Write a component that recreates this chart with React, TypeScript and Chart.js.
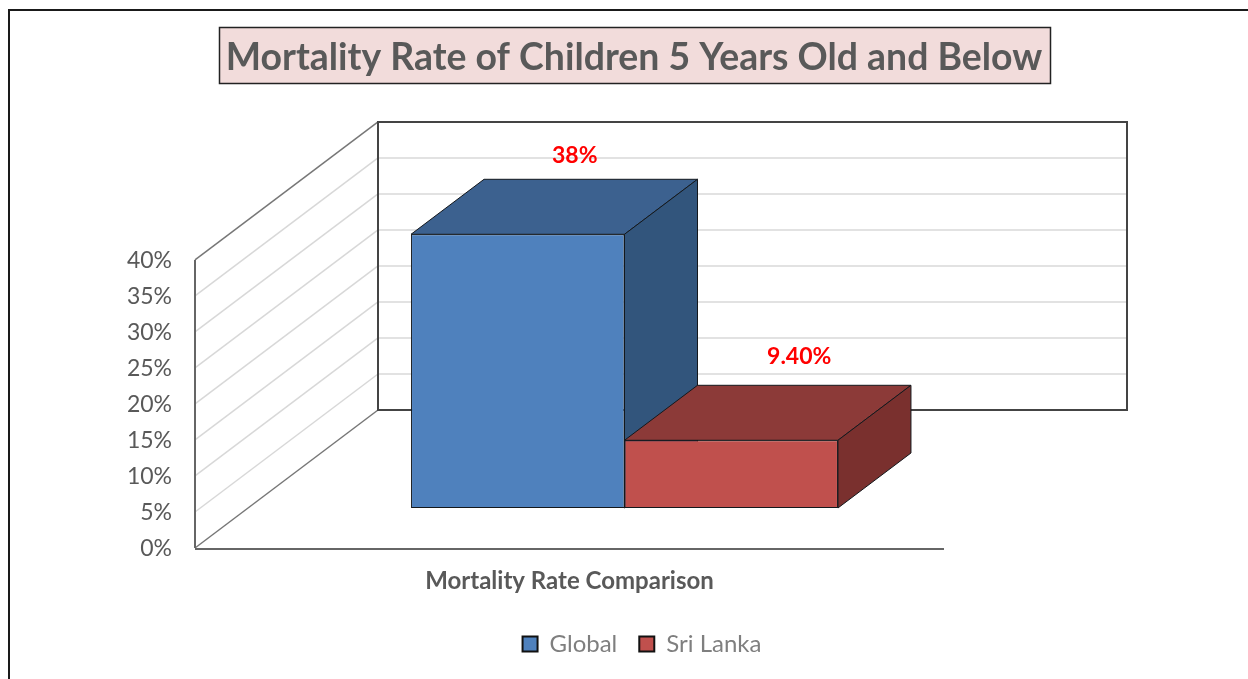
import { useEffect, useRef } from "react";
import { Chart, registerables } from "chart.js";

Chart.register(...registerables);

const titleText = "Mortality Rate of Children 5 Years Old and Below";
const categories = ["Mortality Rate Comparison"];
const seriesNames = ["Global", "Sri Lanka"];
const seriesValues = [[38], [9.4]];
const valueLabels = ["38%", "9.40%"];
const frontColors = ["#4f81bd", "#c0504d"];
const topColors = ["#3c618f", "#8c3a38"];
const sideColors = ["#32557c", "#7a302e"];
const labelNudges = [
  [57, -79],
  [68, -84],
];

const FONT = "Lato, Carlito, sans-serif";

// Oblique projection of the box: how far the rear wall sits from the axis plane,
// how far the bars stand in front of it, and how deep they are.
const wallShift = { x: 183, y: -138 };
const barShift = { x: 55, y: -40 };
const barDepth = { x: 73, y: -55 };

const line = (ctx: any, x1: number, y1: number, x2: number, y2: number, color: string, width: number) => {
  ctx.beginPath();
  ctx.moveTo(x1, y1);
  ctx.lineTo(x2, y2);
  ctx.strokeStyle = color;
  ctx.lineWidth = width;
  ctx.stroke();
};

const face = (ctx: any, points: number[][], fill: string) => {
  ctx.beginPath();
  points.forEach(([x, y], i) => (i ? ctx.lineTo(x, y) : ctx.moveTo(x, y)));
  ctx.closePath();
  ctx.fillStyle = fill;
  ctx.fill();
  ctx.strokeStyle = "#14181c";
  ctx.lineWidth = 1;
  ctx.stroke();
};

const box3d = {
  id: "box3d",
  afterLayout(chart: any) {
    // The plot is narrower than the canvas; title and legend centre on the canvas instead.
    chart.titleBlock.left += 152;
    chart.titleBlock.right += 152;
    chart.legend.left += 160;
    chart.legend.right += 160;
  },
  beforeDraw(chart: any) {
    const { ctx, width, height, scales } = chart;
    const { x: xs, y: ys } = scales;
    ctx.save();
    ctx.fillStyle = "#ffffff";
    ctx.fillRect(0, 0, width, height);
    ctx.strokeStyle = "#1a1a1a";
    ctx.lineWidth = 2;
    ctx.strokeRect(9, 10, width + 20, height + 20);

    // Title plate
    const plate = { l: 219.5, t: 27.5, r: 1050.5, b: 83.5 };
    ctx.fillStyle = "#f2dcdb";
    ctx.fillRect(plate.l, plate.t, plate.r - plate.l, plate.b - plate.t);
    ctx.strokeStyle = "#222222";
    ctx.lineWidth = 1.5;
    ctx.strokeRect(plate.l, plate.t, plate.r - plate.l, plate.b - plate.t);

    const left = xs.left;
    const right = xs.right;
    const top = ys.getPixelForValue(ys.max);
    const bottom = ys.getPixelForValue(ys.min);
    const bx = left + wallShift.x;
    const br = right + wallShift.x;

    // Gridlines run across the side wall and along the rear wall.
    ys.ticks.forEach((tick: any) => {
      if (tick.value === ys.min || tick.value === ys.max) return;
      const py = ys.getPixelForValue(tick.value);
      line(ctx, left, py, bx, py + wallShift.y, "#d8d8d8", 1.5);
      line(ctx, bx, py + wallShift.y, br, py + wallShift.y, "#e2e2e2", 2);
    });

    // Wall outlines
    line(ctx, left, top, bx, top + wallShift.y, "#777777", 1.5);
    line(ctx, left, bottom, bx, bottom + wallShift.y, "#777777", 1.5);
    line(ctx, left, top, left, bottom, "#666666", 2);
    ctx.beginPath();
    ctx.rect(bx, top + wallShift.y, br - bx, bottom - top);
    ctx.strokeStyle = "#444444";
    ctx.lineWidth = 2;
    ctx.stroke();
    line(ctx, left, bottom + 1, right, bottom + 1, "#666666", 2);
    ctx.restore();
  },
  beforeDatasetDraw() {
    // Bars are painted in series order in afterDatasetsDraw instead.
    return false;
  },
  afterDatasetsDraw(chart: any) {
    const { ctx } = chart;
    chart.data.datasets.forEach((_: any, i: number) => {
      const meta = chart.getDatasetMeta(i);
      ctx.save();
      ctx.translate(barShift.x, barShift.y);
      meta.data.forEach((bar: any) => {
        const { x, y, base, width } = bar.getProps(["x", "y", "base", "width"]);
        const l = x - width / 2;
        const r = x + width / 2;
        const d = barDepth;
        face(ctx, [[l, y], [r, y], [r + d.x, y + d.y], [l + d.x, y + d.y]], topColors[i]);
        face(ctx, [[r, y], [r + d.x, y + d.y], [r + d.x, base + d.y], [r, base]], sideColors[i]);
      });
      meta.controller.draw();
      ctx.restore();
    });
    chart.data.datasets.forEach((_: any, i: number) => {
      chart.getDatasetMeta(i).data.forEach((bar: any) => {
        const { x, y } = bar.getProps(["x", "y"]);
        ctx.save();
        ctx.font = `bold 23px ${FONT}`;
        ctx.fillStyle = "#ff0000";
        ctx.textAlign = "center";
        ctx.textBaseline = "middle";
        ctx.fillText(valueLabels[i], x + barShift.x + labelNudges[i][0], y + barShift.y + labelNudges[i][1]);
        ctx.restore();
      });
    });
  },
};

export default function App() {
  const ref = useRef<HTMLCanvasElement>(null);

  useEffect(() => {
    const chart = new Chart(ref.current!, {
      type: "bar",
      data: {
        labels: categories,
        datasets: seriesNames.map((label, i) => ({
          label,
          data: seriesValues[i],
          backgroundColor: frontColors[i],
          borderColor: "#14181c",
          borderWidth: 1,
          borderSkipped: false,
          barPercentage: 1,
          categoryPercentage: 0.57,
        })),
      },
      options: {
        animation: false,
        responsive: false,
        layout: { padding: { left: 20, right: 304, top: 0, bottom: 13 } },
        scales: {
          x: {
            grid: { display: false },
            border: { display: false },
            ticks: {
              padding: 11,
              color: "#595959",
              font: { family: FONT, size: 24, weight: "bold" },
            },
            afterFit(scale: any) {
              scale.height = 62;
            },
          },
          y: {
            min: 0,
            max: 40,
            grid: { display: false, drawTicks: false },
            border: { display: false },
            ticks: {
              stepSize: 5,
              padding: 23,
              labelOffset: 1,
              color: "#595959",
              font: { family: FONT, size: 23 },
              callback: (v: any) => `${v}%`,
            },
            afterFit(scale: any) {
              scale.width = 175;
            },
          },
        },
        plugins: {
          tooltip: { enabled: false },
          title: {
            display: true,
            text: titleText,
            color: "#595959",
            font: { family: FONT, size: 37.4, weight: "bold" },
            padding: { top: 35, bottom: 180 },
          },
          legend: {
            position: "bottom",
            labels: {
              boxWidth: 15,
              boxHeight: 15,
              padding: 22,
              color: "#7f7f7f",
              font: { family: FONT, size: 24 },
              generateLabels: (c: any) =>
                (Chart as any).defaults.plugins.legend.labels
                  .generateLabels(c)
                  .map((item: any) => ({ ...item, lineWidth: 2, strokeStyle: "#111111" })),
            },
          },
        },
      },
      plugins: [box3d],
    } as any);
    return () => chart.destroy();
  }, []);

  return (
    <canvas
      ref={ref}
      width={1248}
      height={679}
      style={{ position: "fixed", left: 0, top: 0, width: 1248, height: 679 }}
    />
  );
}
